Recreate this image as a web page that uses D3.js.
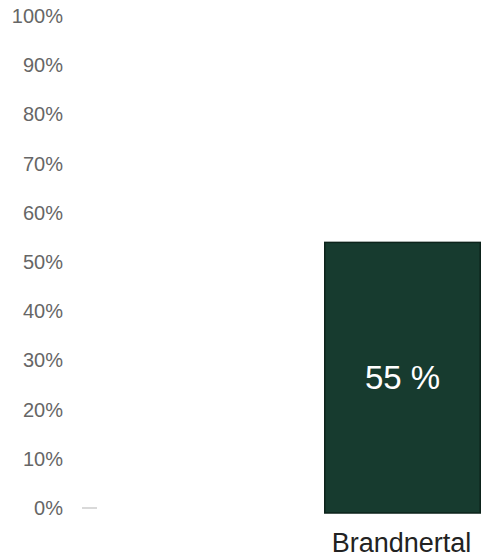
<!DOCTYPE html>
<html><head><meta charset="utf-8">
<script src="https://cdn.jsdelivr.net/npm/d3@7"></script>
<style>html,body{margin:0;padding:0;background:#fff;}svg{display:block;font-family:"Liberation Sans",Arial,sans-serif;}</style>
</head><body>
<script>
const categories = ["Brandnertal"];
const values = [55];
const valueLabels = ["55 %"];
const tickValues = [0, 10, 20, 30, 40, 50, 60, 70, 80, 90, 100];
const tickLabels = ["0%", "10%", "20%", "30%", "40%", "50%", "60%", "70%", "80%", "90%", "100%"];

const W = 481, H = 558;
const svg = d3.select("body").append("svg").attr("width", W).attr("height", H);

const y = d3.scaleLinear().domain([0, 100]).range([513, 21]);
const x = d3.scaleBand().domain(categories).range([167, 481]).paddingOuter(0.5).paddingInner(0).align(1);

// y tick labels
const yg = svg.append("g");
yg.selectAll("text").data(tickValues).join("text")
  .attr("x", 63).attr("y", d => y(d) - 5).attr("dy", "0.35em")
  .attr("text-anchor", "end").attr("font-size", 20).attr("fill", "#666")
  .text((d, i) => tickLabels[i]);
// zero tick mark
svg.append("line").attr("x1", 82).attr("x2", 97).attr("y1", y(0) - 5).attr("y2", y(0) - 5)
  .attr("stroke", "#ccc").attr("stroke-width", 1.5);

// bars
svg.selectAll("rect.bar").data(values).join("rect").attr("class", "bar")
  .attr("x", (d, i) => x(categories[i]) + 0.75)
  .attr("width", x.bandwidth() - 1.5)
  .attr("y", d => y(d))
  .attr("height", d => y(0) - y(d))
  .attr("fill", "#173b2f").attr("stroke", "#0d231b").attr("stroke-width", 1.5);

// value labels
svg.selectAll("text.val").data(values).join("text").attr("class", "val")
  .attr("x", (d, i) => x(categories[i]) + x.bandwidth() / 2)
  .attr("y", d => (y(d) + y(0)) / 2).attr("dy", "0.35em")
  .attr("text-anchor", "middle").attr("font-size", 33).attr("fill", "#fff")
  .text((d, i) => valueLabels[i]);

// category labels
svg.selectAll("text.cat").data(categories).join("text").attr("class", "cat")
  .attr("x", d => x(d) + x.bandwidth() / 2 - 1)
  .attr("y", 543).attr("dy", "0.35em")
  .attr("text-anchor", "middle").attr("font-size", 27).attr("fill", "#222")
  .text(d => d);
</script>
</body></html>
